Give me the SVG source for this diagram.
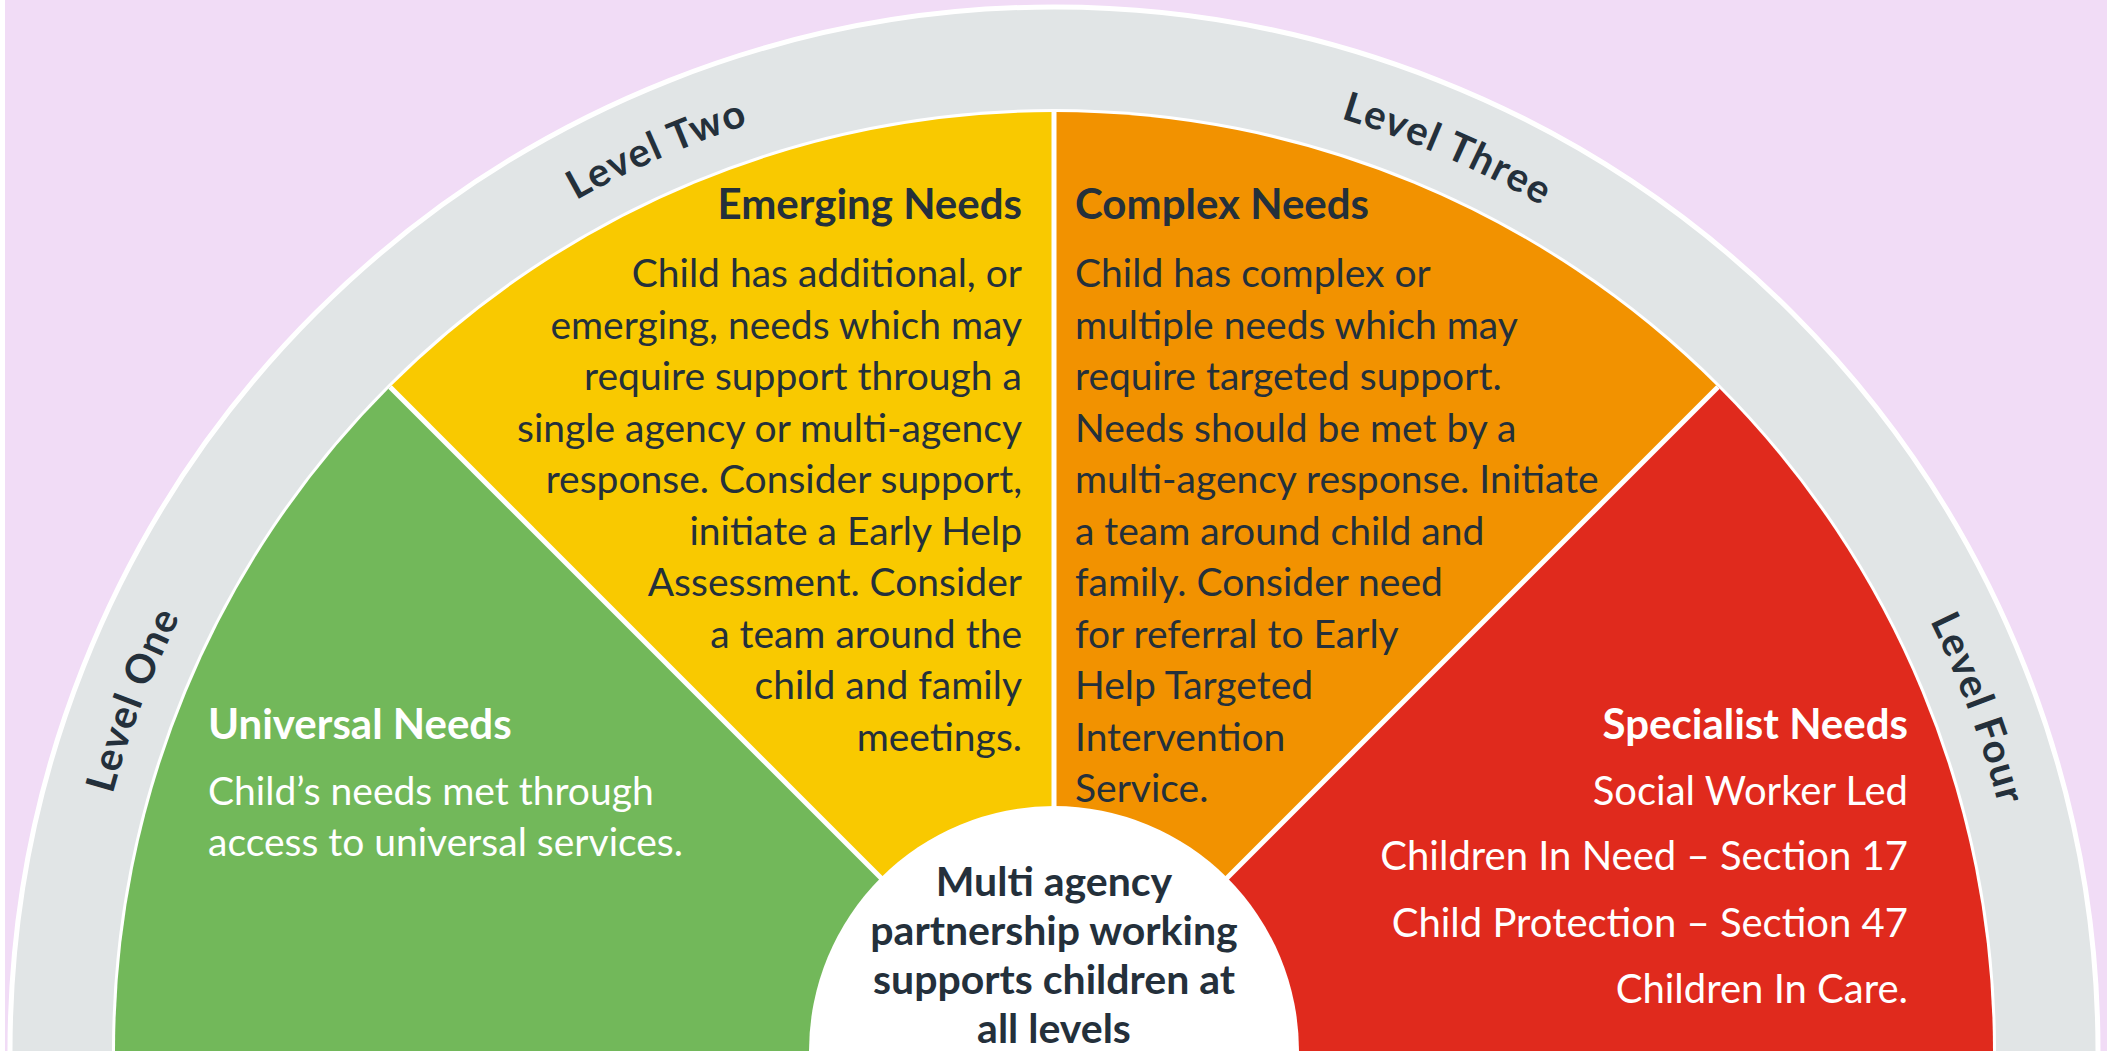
<svg xmlns="http://www.w3.org/2000/svg" width="2107" height="1051" viewBox="0 0 2107 1051">
<style>
.t{font-family:Lato,"Open Sans","Liberation Sans",sans-serif;font-size:39px;fill:#24303b}
.w{fill:#ffffff}
.b{font-weight:bold}
.h{font-size:42px}
.c{font-size:41px}
.s{font-size:40px}
.r{text-anchor:end}
.m{text-anchor:middle}
.lvl{font-family:Lato,"Open Sans","Liberation Sans",sans-serif;font-size:40px;font-weight:bold;fill:#24303b;letter-spacing:1.5px;text-anchor:middle}
.div{stroke:#ffffff;stroke-width:5;fill:none}
</style>
<defs>
<path id="arc" d="M 78 1051 A 976 976 0 0 1 2030 1051"/>
</defs>
<rect x="0" y="0" width="2107" height="1051" fill="#f1dcf6"/>
<rect x="0" y="0" width="5" height="1051" fill="#ffffff"/>
<g id="ring">
<circle cx="1054" cy="1051" r="1044" fill="#e1e5e6" stroke="#ffffff" stroke-width="5"/>
<circle cx="1054" cy="1051" r="942" fill="#ffffff"/>
<text class="lvl"><textPath href="#arc" startOffset="11.6%">Level One</textPath></text>
<text class="lvl"><textPath href="#arc" startOffset="36.8%">Level Two</textPath></text>
<text class="lvl"><textPath href="#arc" startOffset="63.1%">Level Three</textPath></text>
<text class="lvl"><textPath href="#arc" startOffset="88.7%">Level Four</textPath></text>
</g>
<g id="level-one">
<path d="M 1054 1051 L 115 1051 A 939 939 0 0 1 390.03 387.03 Z" fill="#72b85a"/>
<text class="t w b h" x="208" y="739">Universal Needs</text>
<text class="t w" x="208" y="805">Child’s needs met through</text>
<text class="t w" x="208" y="856">access to universal services.</text>
</g>
<g id="level-two">
<path d="M 1054 1051 L 390.03 387.03 A 939 939 0 0 1 1054 112 Z" fill="#f9c900"/>
<text class="t b h r" x="1022" y="219">Emerging Needs</text>
<text class="t r" x="1022" y="287">Child has additional, or</text>
<text class="t r" x="1022" y="338.5">emerging, needs which may</text>
<text class="t r" x="1022" y="390">require support through a</text>
<text class="t r" x="1022" y="441.5">single agency or multi-agency</text>
<text class="t r" x="1022" y="493">response. Consider support,</text>
<text class="t r" x="1022" y="544.5">initiate a Early Help</text>
<text class="t r" x="1022" y="596">Assessment. Consider</text>
<text class="t r" x="1022" y="647.5">a team around the</text>
<text class="t r" x="1022" y="699">child and family</text>
<text class="t r" x="1022" y="750.5">meetings.</text>
</g>
<g id="level-three">
<path d="M 1054 1051 L 1054 112 A 939 939 0 0 1 1717.97 387.03 Z" fill="#f29200"/>
<text class="t b h" x="1075" y="219">Complex Needs</text>
<text class="t" x="1075" y="287">Child has complex or</text>
<text class="t" x="1075" y="338.5">multiple needs which may</text>
<text class="t" x="1075" y="390">require targeted support.</text>
<text class="t" x="1075" y="441.5">Needs should be met by a</text>
<text class="t" x="1075" y="493">multi-agency response. Initiate</text>
<text class="t" x="1075" y="544.5">a team around child and</text>
<text class="t" x="1075" y="596">family. Consider need</text>
<text class="t" x="1075" y="647.5">for referral to Early</text>
<text class="t" x="1075" y="699">Help Targeted</text>
<text class="t" x="1075" y="750.5">Intervention</text>
<text class="t" x="1075" y="802">Service.</text>
</g>
<g id="level-four">
<path d="M 1054 1051 L 1717.97 387.03 A 939 939 0 0 1 1993 1051 Z" fill="#e02a1d"/>
<text class="t w b h r" x="1908" y="739">Specialist Needs</text>
<text class="t w s r" x="1908" y="805">Social Worker Led</text>
<text class="t w s r" x="1908" y="870">Children In Need – Section 17</text>
<text class="t w s r" x="1908" y="937">Child Protection – Section 47</text>
<text class="t w s r" x="1908" y="1003">Children In Care.</text>
</g>
<g id="dividers">
<line class="div" x1="1054" y1="1051" x2="390.03" y2="387.03"/>
<line class="div" x1="1054" y1="1051" x2="1054" y2="112"/>
<line class="div" x1="1054" y1="1051" x2="1717.97" y2="387.03"/>
</g>
<g id="centre">
<circle cx="1054" cy="1051" r="245" fill="#ffffff"/>
<text class="t b c m" x="1054" y="896">Multi agency</text>
<text class="t b c m" x="1054" y="945">partnership working</text>
<text class="t b c m" x="1054" y="994">supports children at</text>
<text class="t b c m" x="1054" y="1043">all levels</text>
</g>
</svg>
